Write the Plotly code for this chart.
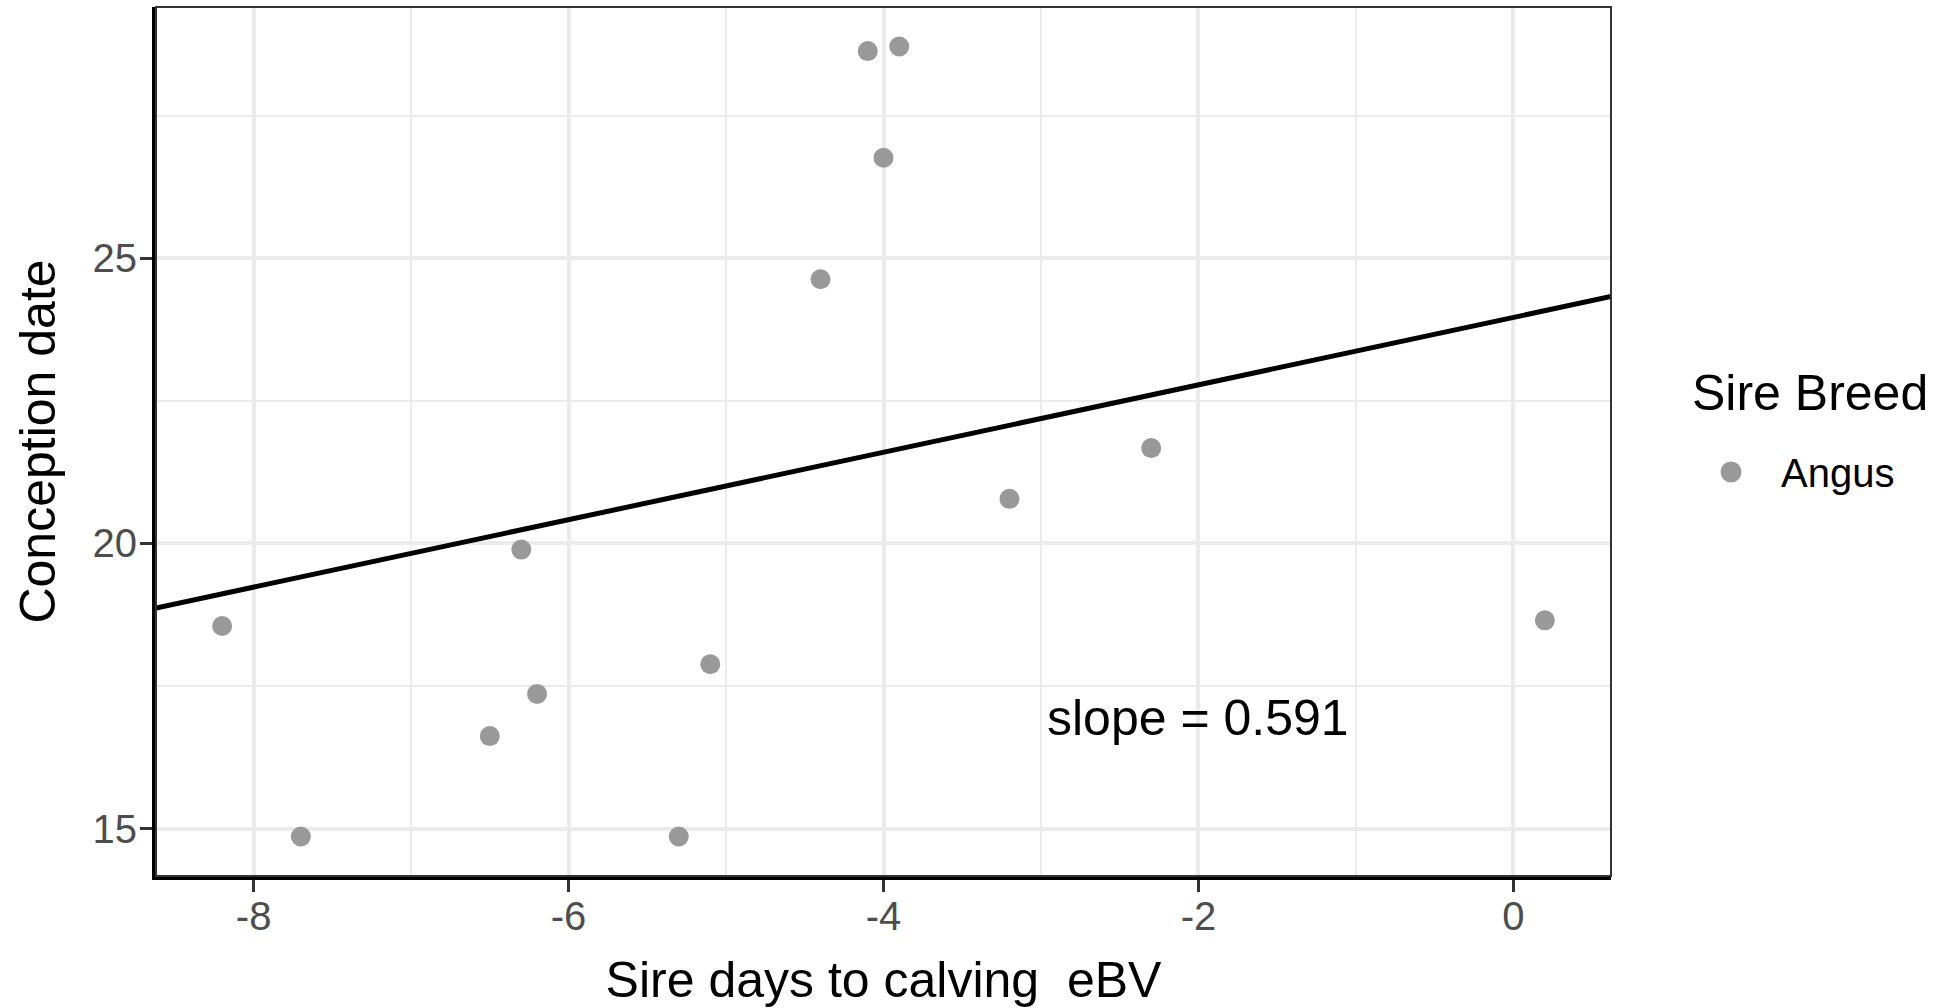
import plotly.graph_objects as go

# Data
sire_dtc_ebv = [-8.2, -7.7, -6.5, -6.3, -6.2, -5.3, -5.1, -4.4, -4.1, -4.0, -3.9, -3.2, -2.3, 0.2]
conception_date = [18.55, 14.86, 16.62, 19.89, 17.36, 14.86, 17.88, 24.63, 28.63, 26.76, 28.71, 20.78, 21.67, 18.65]
breed_name = "Angus"
legend_title = "Sire Breed"
fit_slope = 0.591
fit_intercept = 23.96
slope_label = "slope = 0.591"
label_pos = (-2.0, 16.93)
x_ticks = [-8, -6, -4, -2, 0]
y_ticks = [15, 20, 25]

FONT = "Liberation Sans, Arial, sans-serif"
POINT_COLOR = "#999999"

def expand(vals, f=0.05):
    lo, hi = min(vals), max(vals)
    d = (hi - lo) * f
    return [lo - d, hi + d]

xr = expand(sire_dtc_ebv)
yr = expand(conception_date)

fig = go.Figure()
fig.add_trace(go.Scatter(
    x=sire_dtc_ebv, y=conception_date, mode="markers", name=breed_name,
    marker=dict(size=20, color=POINT_COLOR, line=dict(width=0)),
    showlegend=False,
))
line_x = xr
line_y = [fit_intercept + fit_slope * v for v in line_x]
fig.add_trace(go.Scatter(
    x=line_x, y=line_y, mode="lines", showlegend=False,
    line=dict(color="black", width=5),
))

fig.add_annotation(x=label_pos[0], y=label_pos[1], text=slope_label, showarrow=False,
                   font=dict(family=FONT, size=50, color="black"), xanchor="center", yanchor="middle")

# panel border (grey20)
fig.add_shape(type="rect", xref="x domain", yref="y domain", x0=0, x1=1, y0=0, y1=1,
              line=dict(color="#333333", width=2), layer="above")

# legend (drawn as in ggplot: title, key and label)
PW, PH = 1455.0, 869.0
fig.add_annotation(xref="paper", yref="paper", x=(1690 - 156) / PW, y=(876 - 393) / PH,
                   text=legend_title, showarrow=False, xanchor="left", yanchor="middle",
                   font=dict(family=FONT, size=50, color="black"))
fig.add_annotation(xref="paper", yref="paper", x=(1779 - 156) / PW, y=(876 - 473) / PH,
                   text=breed_name, showarrow=False, xanchor="left", yanchor="middle",
                   font=dict(family=FONT, size=40, color="black"))
cx, cy, r = (1731 - 156) / PW, (876 - 472) / PH, 10.5
fig.add_shape(type="circle", xref="paper", yref="paper",
              x0=cx - r / PW, x1=cx + r / PW, y0=cy - r / PH, y1=cy + r / PH,
              fillcolor=POINT_COLOR, line=dict(width=0))

axis_common = dict(
    showgrid=True, gridcolor="#EBEBEB", gridwidth=3.5,
    zeroline=False, showline=True, linecolor="black", linewidth=4,
    ticks="outside", ticklen=12, tickwidth=3, tickcolor="#333333",
    tickfont=dict(family=FONT, size=40, color="#4D4D4D"),
)

fig.update_xaxes(
    range=xr, tickvals=x_ticks, ticktext=[str(t) for t in x_ticks],
    minor=dict(showgrid=True, gridcolor="#EBEBEB", gridwidth=1.8, tick0=-9, dtick=1),
    title=dict(text="Sire days to calving  eBV", font=dict(family=FONT, size=50, color="black"), standoff=37),
    ticklabelstandoff=-10,
    **axis_common,
)
fig.update_yaxes(
    range=yr, tickvals=y_ticks, ticktext=[str(t) for t in y_ticks],
    minor=dict(showgrid=True, gridcolor="#EBEBEB", gridwidth=1.8, tick0=12.5, dtick=2.5),
    title=dict(text="Conception date", font=dict(family=FONT, size=50, color="black"), standoff=22),
    ticklabelstandoff=-5,
    **axis_common,
)

fig.update_layout(
    width=1939, height=1008,
    margin=dict(l=156, r=328, t=7, b=132, autoexpand=False),
    plot_bgcolor="white", paper_bgcolor="white",
    font=dict(family=FONT, color="black"),
    showlegend=False,
)

fig.write_html("out.html")
